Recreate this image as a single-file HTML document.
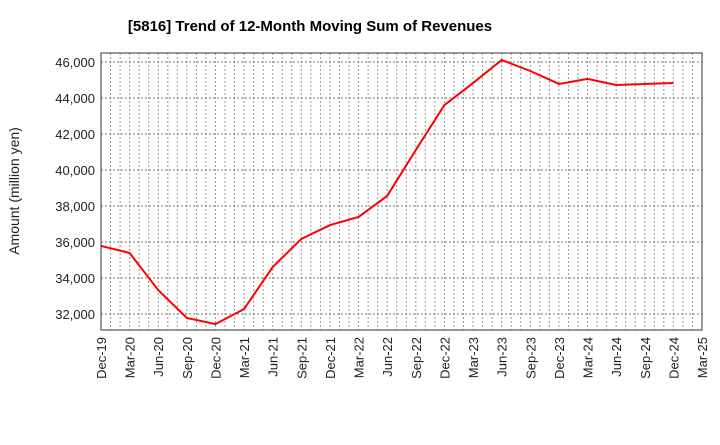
<!DOCTYPE html>
<html><head><meta charset="utf-8"><style>
body{margin:0;background:#fff;font-family:"Liberation Sans",sans-serif}
</style></head><body>
<svg id="c" width="720" height="440" xmlns="http://www.w3.org/2000/svg">
<text x="310" y="31" text-anchor="middle" font-size="15" font-weight="bold" font-family="Liberation Sans">[5816]  Trend of 12-Month Moving Sum of Revenues</text>
<text transform="translate(19,191) rotate(-90)" text-anchor="middle" font-size="14" font-family="Liberation Sans" fill="#222">Amount (million yen)</text>
<g id="grid"></g><g id="ticks"></g><g id="series"></g>
<rect x="101" y="53" width="601" height="277" fill="none" stroke="#333" stroke-width="1"/>
</svg>
<script>
const categories=["Dec-19","Mar-20","Jun-20","Sep-20","Dec-20","Mar-21","Jun-21","Sep-21","Dec-21","Mar-22","Jun-22","Sep-22","Dec-22","Mar-23","Jun-23","Sep-23","Dec-23","Mar-24","Jun-24","Sep-24","Dec-24","Mar-25"];
const revenues=[35780,35390,33330,31780,31440,32280,34610,36170,36940,37390,38560,41110,43610,44830,46110,45500,44780,45060,44720,44780,44830];
const yTicks=[32000,34000,36000,38000,40000,42000,44000,46000];
const NS="http://www.w3.org/2000/svg";
const L=101,R=702,T=53,B=330;
const x=i=>L+(R-L)*i/(categories.length-1);
const y=v=>62+(46000-v)*252/14000;
const grid=document.getElementById('grid'),ticks=document.getElementById('ticks'),series=document.getElementById('series');
function mk(tag,attrs,parent){const e=document.createElementNS(NS,tag);for(const k in attrs)e.setAttribute(k,attrs[k]);parent.appendChild(e);return e;}
for(let m=1;m<(categories.length-1)*3;m++){
  const xx=L+(R-L)*m/((categories.length-1)*3);
  const g=mk('line',{x1:xx,x2:xx,y1:T,y2:B,stroke:'#999','stroke-dasharray':'2,2','stroke-width':1},grid);
  
  
}
yTicks.forEach(v=>{
  const g=mk('line',{x1:L,x2:R,y1:y(v),y2:y(v),stroke:'#777','stroke-dasharray':'2,2','stroke-width':1},grid);
  
  
  const t=mk('text',{x:L-6,y:y(v)+5,'text-anchor':'end','font-size':13,fill:'#222'},ticks);
  t.textContent=v.toLocaleString('en-US');
  
  
});
categories.forEach((c,i)=>{
  const t=mk('text',{transform:`translate(${x(i)+5},337) rotate(-90)`,'text-anchor':'end','font-size':13,fill:'#222'},ticks);
  t.textContent=c;
  
  
});
const p=mk('polyline',{points:revenues.map((v,i)=>x(i)+','+y(v)).join(' '),fill:'none',stroke:'#f00','stroke-width':2},series);


</script>
</body></html>
